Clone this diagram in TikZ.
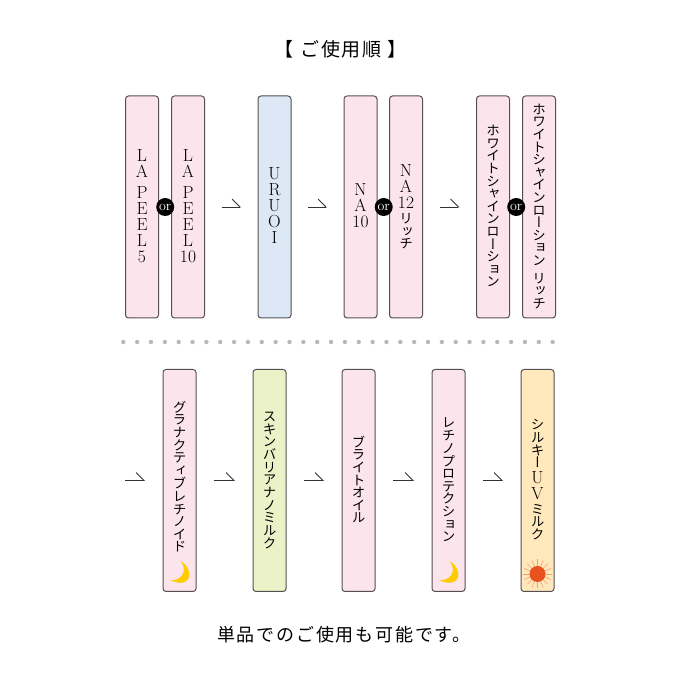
\documentclass[tikz,border=0pt]{standalone}
\usepackage{fontspec}
\usetikzlibrary{positioning,arrows.meta}
\newfontfamily\jpfont[LetterSpace=10]{Noto Sans CJK JP}
\newfontfamily\jpvert[RawFeature=+vert]{Noto Sans CJK JP}
\definecolor{pinkbox}{HTML}{FBE4EC}
\definecolor{bluebox}{HTML}{DDE8F6}
\definecolor{greenbox}{HTML}{EBF2C8}
\definecolor{yellowbox}{HTML}{FFE8BC}
\definecolor{boxline}{HTML}{554F51}
\definecolor{moonfill}{HTML}{FFCC00}
\definecolor{sunfill}{HTML}{E8521E}
\definecolor{sunray}{HTML}{F2A06A}
\makeatletter
\newcommand\vlatin[1]{\@tfor\vitem:=#1\do{\hbox to 30pt{\hss\fontsize{17.5}{17.5}\selectfont\vrule height 13pt depth 3pt width 0pt\vitem\hss}}}
\newcommand\vkana[1]{\@tfor\vitem:=#1\do{\hbox to 30pt{\hss\fontsize{13.5}{13.5}\jpvert\selectfont\vrule height 10.6pt depth 2pt width 0pt\vitem\hss}}}
\makeatother
\newcommand\vstack[1]{\vbox{\offinterlineskip #1}}
\begin{document}
\begin{tikzpicture}[x=1pt, y=1pt,
    main/.style = {draw=boxline, line width=1pt, rounded corners=3pt, minimum width=33pt, minimum height=222pt, inner sep=0pt, outer sep=0pt, fill=pinkbox},
    blue/.style = {main, fill=bluebox},
    green/.style = {main, fill=greenbox},
    cream/.style = {main, fill=yellowbox},
    ornode/.style = {circle, fill=black, text=white, minimum size=18pt, inner sep=0pt, font=\fontsize{14}{14}\selectfont},
    stepline/.style = {draw=black!80, line width=.8pt, -{Straight Barb[left, length=8pt, width=16pt]}, shorten >=#1, shorten <=#1},
    moon/.pic = {\fill[moonfill] (1.2,30.3) .. controls (15,23) and (13,1) .. (-9.5,11.5) .. controls (1,10) and (9,20) .. (1.2,30.3);},
    sun/.pic = {
        \foreach \a in {0,22.5,...,337.5} \draw[sunray, line width=.6pt] (\a:8) -- (\a:14.5);
        \fill[sunfill] (0,0) circle (8);}
    ]
    \useasboundingbox (0,0) rectangle (680,680);
    \node[font=\jpfont\fontsize{19}{19}\selectfont] (title) at (341,631) {【 ご使用順 】};
    % first row
    \node[main] (lp5) at (142,473) {\vstack{\vlatin{LA}\kern5pt\vlatin{PEEL5}}};
    \node[main] (lp10)[right=13pt of lp5] {\vstack{\vlatin{LA}\kern5pt\vlatin{PEEL{10}}}};
    \node[blue] (uruoi)[right=53.5pt of lp10] {\vstack{\vlatin{URUOI}}};
    \node[main] (na10)[right=53pt of uruoi] {\vstack{\vlatin{NA{10}}}};
    \node[main] (na12)[right=12.5pt of na10] {\vstack{\vlatin{NA{12}}\kern2pt\vkana{リッチ}}};
    \node[main] (wsl)[right=54pt of na12] {\vstack{\vkana{ホワイトシャインローション}}};
    \node[main] (wslr)[right=13pt of wsl] {\vstack{\vkana{ホワイトシャインローション}\kern5pt\vkana{リッチ}}};
    \node[ornode] (or1)[right=-2.5pt of lp5] {or};
    \node[ornode] (or2)[right=-2.5pt of na10] {or};
    \node[ornode] (or3)[right=-2.5pt of wsl] {or};
    % dots
    \foreach \i in {0,...,31} \fill[black!28] (123.3+13.85*\i,338) circle (2.2);
    % second row
    \coordinate (start) at (107,199.5);
    \node[main] (gp) at (179.5,199.5) {\vstack{\vkana{グラナクティブレチノイド}\kern6pt}};
    \node[green] (sb)[right=57pt of gp] {\vstack{\vkana{スキンバリアナノミルク}}};
    \node[main] (bo)[right=56pt of sb] {\vstack{\vkana{ブライトオイル}}};
    \node[main] (lt)[right=57pt of bo] {\vstack{\vkana{レチノプロテクション}}};
    \node[cream] (uv)[right=56pt of lt] {\vstack{\vkana{シルキー}\kern1pt\vlatin{UV}\kern1pt\vkana{ミルク}}};
    \pic at (gp.south) {moon};
    \pic at (lt.south) {moon};
    \pic at ([yshift=17.5pt]uv.south) {sun};
    \node[font=\jpfont\fontsize{18}{18}\selectfont] (note) at (344,45) {単品でのご使用も可能です。};
    \foreach \a/\b in {lp10/uruoi, uruoi/na10, na12/wsl}
        \draw[stepline=17pt] (\a) -- (\b);
    \foreach \a/\b in {start/gp, gp/sb, sb/bo, bo/lt, lt/uv}
        \draw[stepline=18pt] (\a) -- (\b);
\end{tikzpicture}
\end{document}
